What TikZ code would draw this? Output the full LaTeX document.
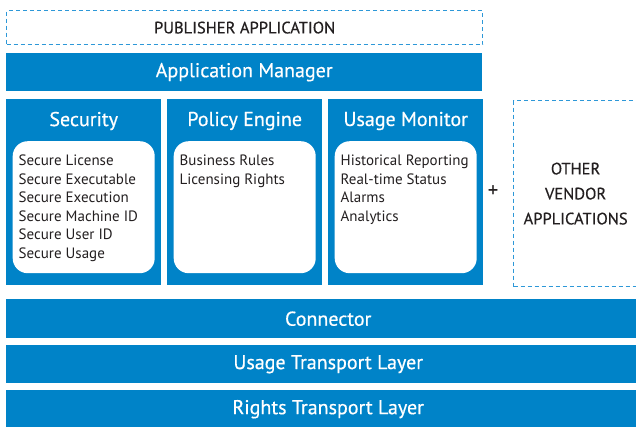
\documentclass[tikz,border=0pt]{standalone}
\usepackage{fontspec}
\setmainfont{PT Sans}
\newfontfamily\midfont{PT Sans}[UprightFeatures={FakeBold=0.5}]
\usetikzlibrary{positioning}

\definecolor{appblue}{RGB}{0,131,200}
\definecolor{dashblue}{RGB}{45,152,216}
\definecolor{capsgray}{RGB}{35,31,32}

\tikzset{
  frame/.style={draw=dashblue, line width=1.2pt, dash pattern=on 4pt off 3pt,
    anchor=north west, inner sep=0pt, text=capsgray,
    font=\midfont\fontsize{16.5}{25}\selectfont},
  layer/.style={fill=appblue, text=white, anchor=north west, inner sep=0pt,
    font=\midfont\fontsize{20}{22}\selectfont},
  module/.style={fill=appblue, anchor=north west, inner sep=0pt,
    minimum width=155pt, minimum height=186pt},
  modtitle/.style={text=white, inner sep=0pt, font=\midfont\fontsize{20}{22}\selectfont},
  panel/.style={fill=white, rounded corners=15pt, inner sep=0pt,
    minimum width=142pt, minimum height=132pt},
  items/.style={anchor=north west, align=left, inner sep=0pt, text=capsgray,
    font=\fontsize{15}{18.5}\selectfont},
}

\begin{document}
\begin{tikzpicture}[x=1pt,y=-1pt]
  \clip (0,0) rectangle (636,426);

  % top of the stack
  \node[frame, minimum width=476pt, minimum height=34pt] (pub) at (6,10)
    {PUBLISHER APPLICATION};
  \node[layer, minimum width=476pt, minimum height=38pt] (mgr) at (6,53)
    {Application Manager};

  % the three modules
  \node[module] (sec) at (6,99) {};
  \node[module] (pol) at (167,99) {};
  \node[module] (mon) at (328,99) {};

  \node[modtitle] (sectitle) at ([yshift=-22pt]sec.north) {Security};
  \node[modtitle] (poltitle) at ([yshift=-22pt]pol.north) {Policy Engine};
  \node[modtitle] (montitle) at ([yshift=-22pt]mon.north) {Usage Monitor};

  \node[panel, above=12pt of sec.south] (secpanel) {};
  \node[panel, above=12pt of pol.south] (polpanel) {};
  \node[panel, above=12pt of mon.south] (monpanel) {};

  \node[items] (secitems) at ([shift={(6pt,-14pt)}]secpanel.north west)
    {Secure License\\Secure Executable\\Secure Execution\\Secure Machine ID\\Secure User ID\\Secure Usage};
  \node[items] (politems) at ([shift={(6pt,-14pt)}]polpanel.north west)
    {Business Rules\\Licensing Rights};
  \node[items] (monitems) at ([shift={(6pt,-14pt)}]monpanel.north west)
    {Historical Reporting\\Real-time Status\\Alarms\\Analytics};

  % third party side
  \node[text=capsgray, font=\midfont\fontsize{20}{20}\selectfont] (plus) at (493,191) {+};
  \node[frame, align=center, minimum width=124pt, minimum height=186pt] (vendor) at (513,100)
    {OTHER\\VENDOR\\APPLICATIONS};

  % transport layers
  \node[layer, minimum width=644pt, minimum height=39pt] (conn) at (6,299) {Connector};
  \node[layer, minimum width=644pt, minimum height=38pt] (usage) at (6,345) {Usage Transport Layer};
  \node[layer, minimum width=644pt, minimum height=38pt] (rights) at (6,390) {Rights Transport Layer};
\end{tikzpicture}
\end{document}
